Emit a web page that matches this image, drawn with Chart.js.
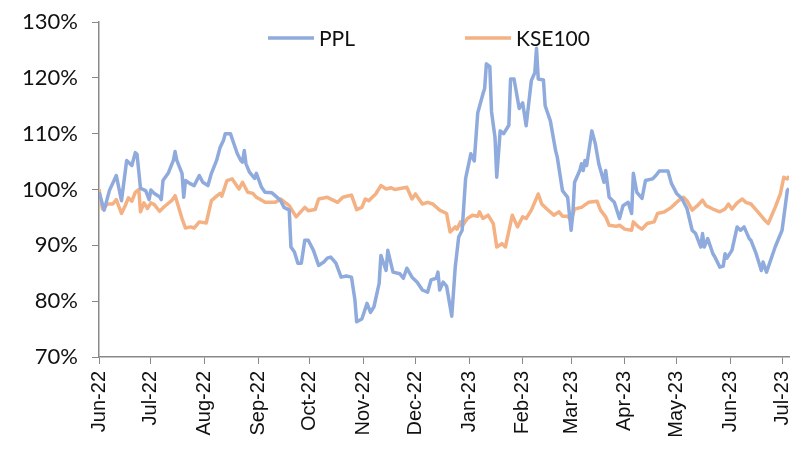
<!DOCTYPE html>
<html>
<head>
<meta charset="utf-8">
<script src="https://cdn.jsdelivr.net/npm/chart.js@4.4.0/dist/chart.umd.min.js"></script>
<style>
    body { margin: 0; background: #fff; }
</style>
</head>
<body>
<canvas id="ppl-chart" width="802" height="451"></canvas>
<script>
// days counted from 1 Jun 2022
const pplDays = [0, 3, 6, 10, 13, 16, 19, 21, 22, 24, 27, 29, 30, 32, 35, 36, 37, 40, 43, 44,
    45, 48, 49, 50, 53, 55, 58, 60, 63, 65, 68, 70, 72, 73, 76, 78, 80, 82, 83, 84,
    85, 87, 90, 91, 94, 96, 100, 103, 105, 107, 110, 111, 113, 115, 117, 119, 121, 124, 127, 130,
    132, 134, 137, 140, 143, 146, 148, 149, 152, 155, 157, 159, 162, 163, 166, 167, 170, 174, 176, 178,
    181, 184, 187, 190, 192, 195, 196, 197, 199, 201, 204, 206, 208, 210, 212, 215, 217, 219, 222, 223,
    224, 226, 227, 229, 230, 232, 234, 237, 238, 240, 243, 245, 247, 250, 252, 253, 254, 257, 258, 261,
    264, 265, 268, 271, 273, 274, 275, 278, 279, 280, 281, 282, 285, 287, 289, 292, 293, 295, 298, 301,
    303, 306, 308, 309, 311, 314, 316, 320, 322, 324, 329, 331, 334, 337, 340, 343, 345, 348, 349, 350,
    352, 355, 356, 359, 361, 362, 363, 366, 369, 371, 373, 376, 377, 380, 383, 384, 386, 387, 391, 395,
    398, 399]
const pplValues = [99.5, 96.3, 99.8, 102.5, 98, 105.2, 104.3, 106.6, 106.3, 100.2, 99.8, 98.2, 99.9, 99.3, 98.7, 98.2, 101.6, 102.9, 105.2, 106.8,
    105.2, 102.9, 98.6, 101.6, 101.0, 100.7, 102.5, 101.3, 100.7, 102.9, 105.2, 107.5, 108.8, 110, 110, 108.2, 106.4, 105.2, 104.9, 107,
    104.6, 103.1, 102, 102.9, 100.4, 99.5, 99.4, 98.6, 98, 96.8, 96.3, 89.7, 88.8, 86.8, 86.8, 90.9, 90.9, 89.1, 86.4, 87,
    87.7, 87.9, 86.8, 84.3, 84.5, 84.3, 80.2, 76.3, 76.8, 79.6, 78.0, 79, 83.2, 88.2, 85.5, 89.1, 85.2, 84.9, 84.1, 85.9,
    84.3, 83.4, 82, 81.6, 83.8, 84.1, 85.2, 82, 83.4, 82.7, 77.3, 86.1, 91.5, 92.7, 102, 106.4, 105.1, 113.7, 117.1, 118.1,
    122.5, 122, 113.9, 109.3, 102.2, 110.5, 110, 111.5, 119.8, 119.8, 114.5, 115.5, 111.4, 119.5, 120.9, 125.3, 119.8, 119.6, 115, 112.3,
    107, 105.8, 99.8, 98.6, 92.7, 95.7, 101.3, 103.4, 104.6, 103.4, 105.2, 104.3, 110.5, 108.2, 104.6, 101.3, 103.4, 98.6, 97.7, 94.8,
    97.1, 97.7, 95.7, 102.9, 99.5, 98.4, 101.6, 101.9, 102.5, 103.3, 103.3, 101.1, 99.3, 98.4, 96.6, 92.7, 92.1, 89.7, 92.1, 89.7,
    91.2, 88.5, 88.0, 86.1, 86.3, 88.5, 87.7, 89.1, 93.3, 92.7, 93.3, 91.2, 90.9, 88.5, 85.5, 87, 85.2, 86.1, 89.7, 92.7,
    99.8, 100.2]

const kseDays = [0, 2, 5, 8, 10, 13, 15, 17, 19, 21, 23, 24, 26, 28, 30, 32, 35, 38, 42, 44,
    45, 48, 50, 53, 55, 58, 62, 65, 68, 70, 71, 74, 77, 81, 83, 86, 89, 91, 94, 96,
    102, 105, 110, 114, 119, 121, 125, 127, 132, 138, 141, 146, 149, 152, 154, 156, 160, 163, 166, 169,
    171, 178, 181, 183, 187, 190, 193, 197, 201, 203, 206, 207, 209, 210, 213, 216, 219, 220, 222, 225,
    228, 230, 233, 235, 239, 242, 245, 247, 250, 254, 256, 259, 263, 266, 268, 271, 273, 275, 279, 283,
    288, 290, 293, 295, 299, 301, 304, 308, 309, 312, 314, 317, 321, 323, 327, 331, 335, 338, 340, 343,
    346, 349, 351, 355, 359, 362, 364, 366, 369, 372, 374, 377, 381, 385, 387, 391, 394, 396, 398, 399]
const kseValues = [100.1, 96.5, 97.4, 97.4, 98.2, 95.7, 97, 98.5, 97.9, 99.5, 100, 96, 97.6, 96.6, 97.6, 97.3, 96.1, 97.0, 98.0, 98.9,
    97.9, 94.8, 93.1, 93.3, 93.1, 94.2, 94.0, 98.0, 98.8, 99.3, 98.8, 101.6, 101.9, 100.1, 101.3, 99.5, 99.3, 98.6, 98.1, 97.7,
    97.7, 98.3, 97.1, 95.1, 96.8, 96.2, 96.4, 98.3, 98.6, 97.7, 98.6, 99.0, 96.4, 96.8, 98.3, 98.0, 99.2, 100.7, 100.1, 100.3,
    100.0, 100.4, 98.3, 99.2, 97.4, 97.7, 97.4, 96.3, 95.7, 92.4, 93.3, 92.9, 94.2, 93.4, 94.8, 95.4, 95.2, 96, 94.8, 95.4,
    93.9, 89.7, 90.3, 89.7, 95.4, 93.3, 95.1, 94.8, 96.3, 99.2, 97.4, 96.5, 95.4, 96, 95.2, 95.2, 94.5, 96.5, 96.8, 97.7,
    97.9, 96.3, 95.1, 93.6, 93.4, 93.6, 92.9, 92.7, 94.2, 93.3, 92.9, 93.9, 94.2, 95.7, 96, 96.8, 98, 98.6, 98.0, 96.3,
    97.1, 98.1, 97.1, 96.5, 96, 96.5, 97.4, 96.5, 97.6, 98.3, 97.7, 97.4, 96, 94.5, 93.9, 96.8, 99.2, 102.2, 101.9, 102.4]

const monthDays = [0, 30, 61, 92, 122, 153, 183, 214, 245, 273, 304, 334, 365, 395]
const monthLabels = ['Jun-22', 'Jul-22', 'Aug-22', 'Sep-22', 'Oct-22', 'Nov-22', 'Dec-22',
    'Jan-23', 'Feb-23', 'Mar-23', 'Apr-23', 'May-23', 'Jun-23', 'Jul-23']

const axisGrey = '#898989'

// legend sits inside the plot, Excel style
const insideLegend = {
    id: 'insideLegend',
    afterDraw(chart) {
        const {ctx, chartArea} = chart
        const y = chartArea.top + 16
        let x = chartArea.left + 169
        ctx.save()
        ctx.font = '21px Lato'
        ctx.textBaseline = 'middle'
        chart.data.datasets.forEach(ds => {
            ctx.strokeStyle = ds.borderColor
            ctx.lineWidth = 3.5
            ctx.beginPath()
            ctx.moveTo(x, y)
            ctx.lineTo(x + 46, y)
            ctx.stroke()
            ctx.fillStyle = '#111'
            ctx.fillText(ds.label, x + 51, y + 1)
            x += 51 + ctx.measureText(ds.label).width + 110
        })
        ctx.restore()
    }
}

const ctx = document.getElementById('ppl-chart')
new Chart(ctx, {
    type: 'line',
    data: {
        datasets: [{
            label: 'PPL',
            data: pplDays.map((d, i) => ({x: d, y: pplValues[i]})),
            borderColor: '#8FAADC',
            borderWidth: 3.5,
        }, {
            label: 'KSE100',
            data: kseDays.map((d, i) => ({x: d, y: kseValues[i]})),
            borderColor: '#F4B183',
            borderWidth: 3.5,
        }]
    },
    options: {
        responsive: false,
        animation: false,
        layout: {
            padding: {top: 22, right: 13, left: 0, bottom: 0}
        },
        elements: {
            point: {radius: 0},
            line: {tension: 0, borderJoinStyle: 'round'}
        },
        plugins: {
            legend: {display: false},
            tooltip: {enabled: false},
        },
        scales: {
            x: {
                type: 'linear',
                min: 0,
                max: 399,
                afterBuildTicks: (scale) => {
                    scale.ticks = monthDays.map(v => ({value: v}))
                },
                afterFit: (scale) => {
                    scale.height = 94
                    scale.paddingLeft = 0
                    scale.paddingRight = 0
                },
                ticks: {
                    autoSkip: false,
                    maxRotation: 90,
                    minRotation: 90,
                    padding: 7,
                    color: '#111',
                    font: {family: 'Liberation Sans', size: 20},
                    callback: (value) => monthLabels[monthDays.indexOf(value)]
                },
                grid: {
                    drawOnChartArea: false,
                    drawTicks: true,
                    tickLength: 7,
                    color: axisGrey,
                },
                border: {color: axisGrey, width: 1.5}
            },
            y: {
                min: 70,
                max: 130,
                afterFit: (scale) => {
                    scale.width = 99
                    scale.paddingTop = 0
                    scale.paddingBottom = 0
                },
                ticks: {
                    stepSize: 10,
                    padding: 14,
                    color: '#111',
                    font: {family: 'Lato', size: 22},
                    callback: (value) => value + '%'
                },
                grid: {
                    drawOnChartArea: false,
                    drawTicks: true,
                    tickLength: 7,
                    color: axisGrey,
                },
                border: {color: axisGrey, width: 1.5}
            }
        }
    },
    plugins: [insideLegend]
})
</script>
</body>
</html>
